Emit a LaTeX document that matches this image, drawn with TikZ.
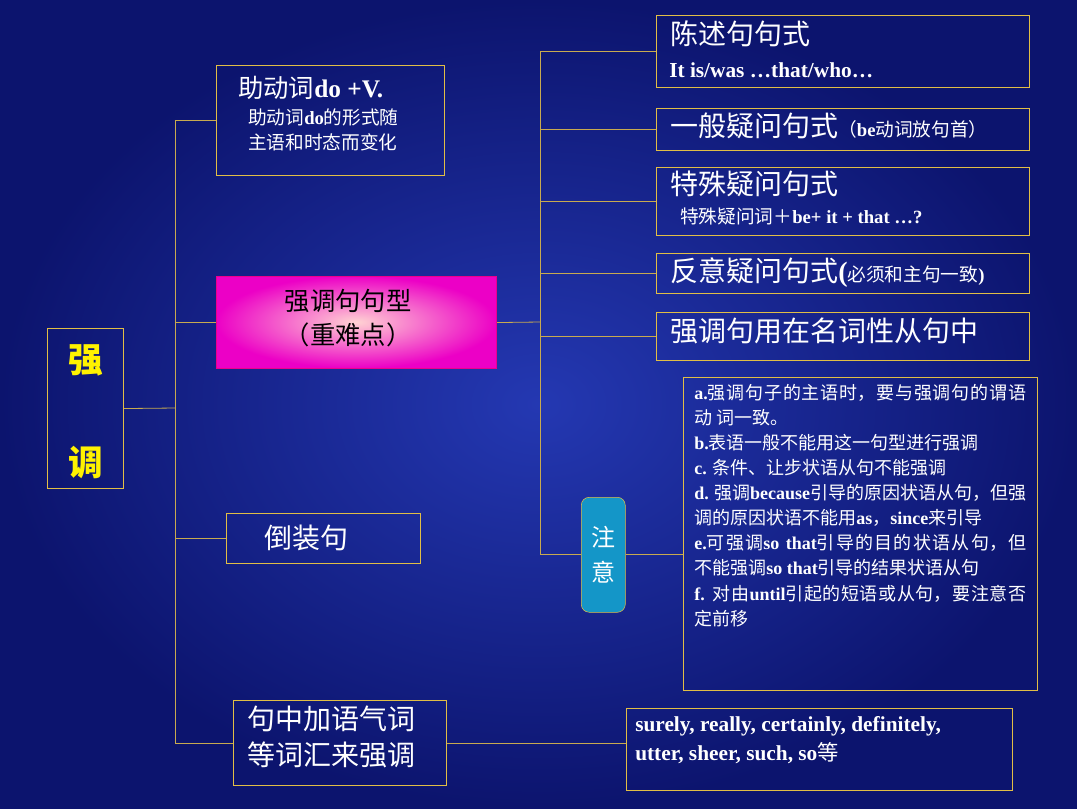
\documentclass[tikz,border=0pt]{standalone}
\usepackage{fontspec}
\setmainfont{Liberation Serif}
\newfontfamily\cjk{Noto Sans CJK SC}
\XeTeXlinebreaklocale "zh"
\XeTeXlinebreakskip=0pt plus 1pt
\usetikzlibrary{positioning}
\definecolor{bgin}{RGB}{36,56,178}
\definecolor{bgout}{RGB}{12,20,110}
\definecolor{gold}{RGB}{225,190,70}
\definecolor{ln}{RGB}{200,170,80}
\definecolor{tealc}{RGB}{20,150,200}
\tikzset{
  box/.style={draw=gold,line width=0.8pt},
  conn/.style={draw=ln,line width=0.6pt},
  txt/.style={text=white,align=left,anchor=north west,inner sep=0pt},
}
\begin{document}
\begin{tikzpicture}[x=0.75pt,y=-0.75pt]
\useasboundingbox (0,0) rectangle (1077,808);
\shade[inner color=bgin,outer color=bgout] (0,0) rectangle (1077,808);
% boxes
\node[box,minimum width=76*0.75pt,minimum height=160*0.75pt,anchor=north west] (root) at (47,328) {};
\node[text=yellow,font=\cjk\bfseries\fontsize{26}{26}\selectfont] at (86,360) {强};
\node[text=yellow,font=\cjk\bfseries\fontsize{26}{26}\selectfont] at (86,462) {调};
\node[box,minimum width=228*0.75pt,minimum height=110*0.75pt,anchor=north west] (a1) at (216,65) {};
\node[txt,font=\cjk\fontsize{19}{22}\selectfont] at (238,76) {助动词\textbf{\rmfamily do +V.}};
\node[txt,font=\cjk\fontsize{14}{19}\selectfont] at (248,108) {助动词\textbf{\rmfamily do}的形式随\\主语和时态而变化};
\shade[inner color=pink!70!white,outer color=magenta!70!purple] (216,276) rectangle (496,368);
\node[draw=magenta,line width=0.8pt,minimum width=280*0.75pt,minimum height=92*0.75pt,anchor=north west] (a2) at (216,276) {};
\node[font=\cjk\fontsize{19}{26}\selectfont,text=black,align=center] at (348,318) {强调句句型\\（重难点）};
\node[box,minimum width=194*0.75pt,minimum height=50*0.75pt,anchor=north west] (a3) at (226,513) {};
\node[text=white,font=\cjk\fontsize{21}{24}\selectfont,anchor=west] at (260,538) {倒装句};
\node[box,minimum width=213*0.75pt,minimum height=85*0.75pt,anchor=north west] (a4) at (233,700) {};
\node[txt,font=\cjk\fontsize{21}{27}\selectfont] at (247,706) {句中加语气词\\等词汇来强调};
% right boxes
\node[box,minimum width=373*0.75pt,minimum height=72*0.75pt,anchor=north west] (b1) at (656,15) {};
\node[txt,font=\cjk\fontsize{21}{24}\selectfont] at (670,20) {陈述句句式};
\node[txt,font=\bfseries\fontsize{16}{18}\selectfont] at (669,62) {It is/was …that/who…};
\node[box,minimum width=373*0.75pt,minimum height=42*0.75pt,anchor=north west] (b2) at (656,108) {};
\node[txt,font=\cjk\fontsize{21}{24}\selectfont] at (670,113) {一般疑问句式\fontsize{14}{16}\selectfont（\textbf{\rmfamily be}动词放句首）};
\node[box,minimum width=373*0.75pt,minimum height=68*0.75pt,anchor=north west] (b3) at (656,167) {};
\node[txt,font=\cjk\fontsize{21}{24}\selectfont] at (670,171) {特殊疑问句式};
\node[txt,font=\cjk\fontsize{14}{16}\selectfont] at (680,208) {特殊疑问词＋\textbf{\rmfamily be+ it + that …?}};
\node[box,minimum width=373*0.75pt,minimum height=40*0.75pt,anchor=north west] (b4) at (656,253) {};
\node[txt,font=\cjk\fontsize{21}{24}\selectfont] at (670,257) {反意疑问句式\textbf{\rmfamily (}\fontsize{14}{16}\selectfont 必须和主句一致\textbf{\rmfamily )}};
\node[box,minimum width=373*0.75pt,minimum height=48*0.75pt,anchor=north west] (b5) at (656,312) {};
\node[txt,font=\cjk\fontsize{21}{24}\selectfont] at (670,318) {强调句用在名词性从句中};
\node[fill=tealc,draw=gold,rounded corners=6pt,minimum width=44*0.75pt,minimum height=115*0.75pt,anchor=north west] (c1) at (581,497) {};
\node[text=white,font=\cjk\fontsize{18}{26}\selectfont,align=center] at (603,555) {注\\意};
\node[box,minimum width=354*0.75pt,minimum height=313*0.75pt,anchor=north west] (c2) at (683,377) {};
\node[txt,font=\cjk\fontsize{13.5}{18.8}\selectfont,text width=332*0.75pt,align=justify] at (694,384) {\textbf{\rmfamily a.}强调句子的主语时，要与强调句的谓语动 词一致。\\\textbf{\rmfamily b.}表语一般不能用这一句型进行强调\\\textbf{\rmfamily c.} 条件、让步状语从句不能强调\\\textbf{\rmfamily d.} 强调\textbf{\rmfamily because}引导的原因状语从句，但强调的原因状语不能用\textbf{\rmfamily as}，\textbf{\rmfamily since}来引导\\\textbf{\rmfamily e.}可强调\textbf{\rmfamily so that}引导的目的状语从句，但不能强调\textbf{\rmfamily so that}引导的结果状语从句\\\textbf{\rmfamily f.} 对由\textbf{\rmfamily until}引起的短语或从句，要注意否定前移};
\node[box,minimum width=386*0.75pt,minimum height=82*0.75pt,anchor=north west] (d1) at (626,708) {};
\node[txt,font=\bfseries\fontsize{16}{22}\selectfont] at (635,716) {surely, really, certainly, definitely,\\utter, sheer, such, so{\cjk\mdseries 等}};
% connectors
\coordinate (vl) at (175,0);
\coordinate (vr) at (540,0);
\coordinate (L) at (175,408);
\draw[conn] (root.east) -- (L);
\draw[conn] (vl |- a1.west) -- (vl |- a4.west);
\draw[conn] (vl |- a1.west) -- (a1.west);
\draw[conn] (vl |- a2.west) -- (a2.west);
\draw[conn] (vl |- a3.west) -- (a3.west);
\draw[conn] (vl |- a4.west) -- (a4.west);
\coordinate (R) at (540,322);
\draw[conn] (a2.east) -- (R);
\draw[conn] (vr |- b1.west) -- (vr |- c1.west);
\draw[conn] (vr |- b1.west) -- (b1.west);
\draw[conn] (vr |- b2.west) -- (b2.west);
\draw[conn] (vr |- b3.west) -- (b3.west);
\draw[conn] (vr |- b4.west) -- (b4.west);
\draw[conn] (vr |- b5.west) -- (b5.west);
\draw[conn] (vr |- c1.west) -- (c1.west);
\draw[conn] (c1.east) -- (c1.east -| c2.west);
\draw[conn] (a4.east) -- (a4.east -| d1.west);
\end{tikzpicture}
\end{document}
